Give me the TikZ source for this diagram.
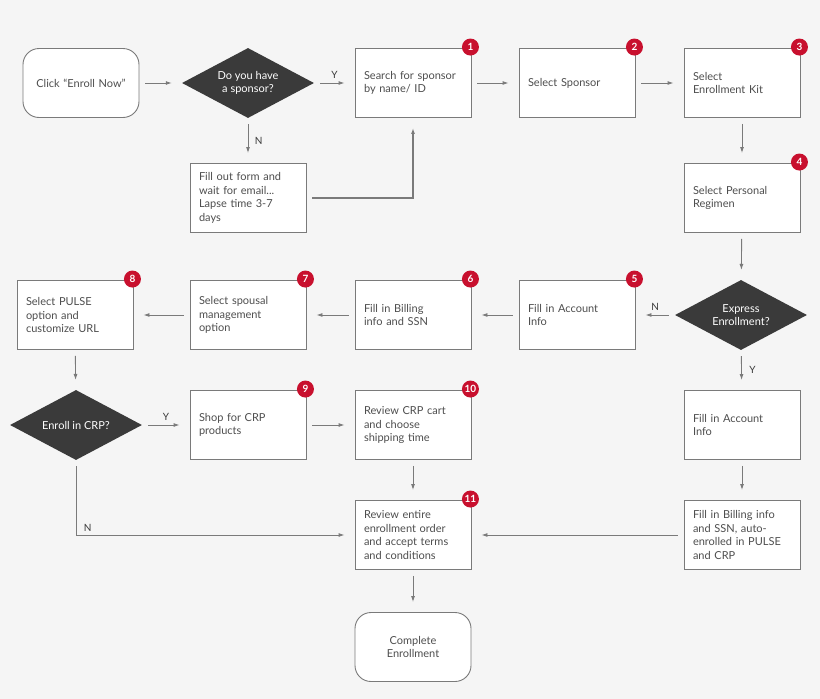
\documentclass[tikz,border=0pt]{standalone}
\usepackage{fontspec}
\setmainfont{Lato}
\usetikzlibrary{shapes.geometric,arrows.meta}
\definecolor{bg}{HTML}{F5F5F5}
\definecolor{ln}{HTML}{7A7A7A}
\definecolor{dk}{HTML}{3A3A3A}
\definecolor{rd}{HTML}{C8102E}
\begin{document}
\begin{tikzpicture}[x=1pt,y=-1pt,
  every node/.style={font=\fontsize{11}{13.5}\selectfont, text=dk!90},
  box/.style={draw=ln, line width=0.9pt, fill=white, minimum width=116pt, minimum height=69pt, text width=98pt, align=left, inner xsep=9pt},
  term/.style={box, rounded corners=16pt, align=center},
  dia/.style={diamond, fill=dk, text=white, aspect=1.9, minimum width=132pt, minimum height=70pt, inner sep=0pt, align=center},
  badge/.style={circle, fill=rd, text=white, inner sep=0pt, minimum size=17pt, font=\fontsize{10}{10}\bfseries\selectfont},
  arr/.style={draw=ln, line width=0.9pt, -{Latex[length=6pt,width=4pt]}, shorten <=6pt, shorten >=10pt},
  lab/.style={font=\fontsize{10}{12}\selectfont, text=dk}]
\fill[bg] (0,0) rectangle (820,699);
\useasboundingbox (0,0) rectangle (820,699);
\node[term] (start) at (81,83) {Click ``Enroll Now''};
\node[dia] (d1) at (248,83) {Do you have\\a sponsor?};
\node[box] (b1) at (413,83) {Search for sponsor\\by name/ ID};
\node[box] (b2) at (577,83) {Select Sponsor};
\node[box] (b3) at (742,83) {Select\\Enrollment Kit};
\node[box] (form) at (248,198) {Fill out form and\\wait for email...\\Lapse time 3-7\\days};
\node[box] (b4) at (742,198) {Select Personal\\Regimen};
\node[dia] (d2) at (741,315) {Express\\Enrollment?};
\node[box] (b5) at (577,315) {Fill in Account\\Info};
\node[box] (b6) at (413,315) {Fill in Billing\\info and SSN};
\node[box] (b7) at (248,315) {Select spousal\\management\\option};
\node[box] (b8) at (75,315) {Select PULSE\\option and\\customize URL};
\node[dia] (d3) at (76,425) {Enroll in CRP?};
\node[box] (b9) at (248,425) {Shop for CRP\\products};
\node[box] (b10) at (413,425) {Review CRP cart\\and choose\\shipping time};
\node[box] (r1) at (742,425) {Fill in Account\\Info};
\node[box] (b11) at (413,535) {Review entire\\enrollment order\\and accept terms\\and conditions};
\node[box] (r2) at (742,535) {Fill in Billing info\\and SSN, auto-\\enrolled in PULSE\\and CRP};
\node[term] (end) at (413,647) {Complete\\Enrollment};
\foreach \n/\k in {b1/1,b2/2,b3/3,b4/4,b5/5,b6/6,b7/7,b8/8,b9/9,b10/10,b11/11}
  \node[badge] (k\k) at ([xshift=-1pt,yshift=1pt]\n.north east) {\k};
\draw[arr] (start) -- (d1);
\draw[arr] (d1) -- node[lab,above=1pt] {Y} (b1);
\draw[arr] (d1) -- node[lab,right=3pt] {N} (form);
\draw[arr, line width=1.6pt] (form.east) -| (b1.south);
\draw[arr] (b1) -- (b2);
\draw[arr] (b2) -- (b3);
\draw[arr] (b3) -- (b4);
\draw[arr] (b4) -- (d2);
\draw[arr] (d2) -- node[lab,above=1pt] {N} (b5);
\draw[arr] (b5) -- (b6);
\draw[arr] (b6) -- (b7);
\draw[arr] (b7) -- (b8);
\draw[arr] (b8) -- (d3);
\draw[arr] (d3) -- node[lab,above=1pt] {Y} (b9);
\draw[arr] (b9) -- (b10);
\draw[arr] (b10) -- (b11);
\draw[arr] (d3.south) |- node[lab,pos=0.45,right=4pt] {N} (b11.west);
\draw[arr] (d2) -- node[lab,right=4pt] {Y} (r1);
\draw[arr] (r1) -- (r2);
\draw[arr] (r2) -- (b11);
\draw[arr] (b11) -- (end);
\end{tikzpicture}
\end{document}
